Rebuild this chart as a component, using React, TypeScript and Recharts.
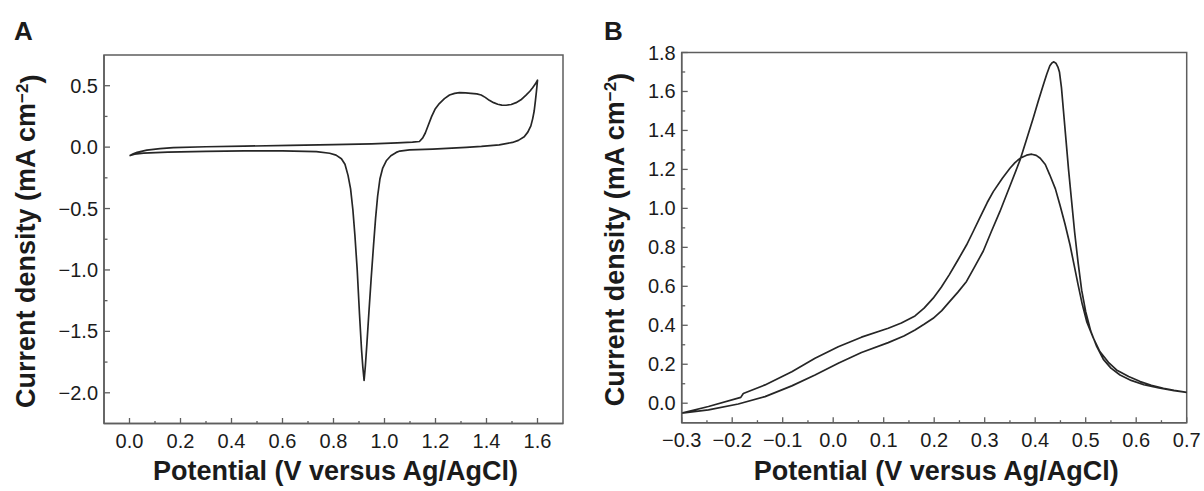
import React from 'react'
import { LineChart, Line, XAxis, YAxis, ReferenceArea } from 'recharts'

// Panel A: cyclic voltammogram, 0 -> 1.6 V and back
const potentialA_fwd = [
  0.0, 0.015, 0.03, 0.068, 0.12, 0.172, 0.3, 0.45, 0.63, 0.8, 0.95, 1.05, 1.11, 1.137,
  1.15, 1.16, 1.172, 1.185, 1.198, 1.215, 1.235, 1.255, 1.275, 1.294, 1.318, 1.339, 1.362,
  1.379, 1.395, 1.411, 1.428, 1.444, 1.46, 1.477, 1.497, 1.516, 1.535, 1.555, 1.57, 1.581,
  1.592, 1.6,
]
const currentA_fwd = [
  -0.07, -0.055, -0.043, -0.024, -0.012, -0.004, 0.003, 0.008, 0.014, 0.02, 0.027, 0.034,
  0.04, 0.046, 0.075, 0.115, 0.18, 0.25, 0.308, 0.355, 0.395, 0.424, 0.438, 0.443, 0.441,
  0.438, 0.433, 0.424, 0.405, 0.381, 0.362, 0.349, 0.342, 0.341, 0.347, 0.362, 0.385, 0.424,
  0.455, 0.484, 0.515, 0.545,
]
const potentialA_rev = [
  1.598, 1.596, 1.592, 1.587, 1.581, 1.574, 1.562, 1.548, 1.525, 1.502, 1.45, 1.38, 1.32,
  1.189, 1.098, 1.06, 1.046, 1.025, 1.007, 0.993, 0.982, 0.973, 0.965, 0.957, 0.948, 0.939,
  0.931, 0.925, 0.92, 0.915, 0.91, 0.902, 0.893, 0.884, 0.876, 0.867, 0.857, 0.845, 0.831,
  0.81, 0.785, 0.733, 0.6, 0.45, 0.3, 0.15, 0.055, 0.02, 0.0,
]
const currentA_rev = [
  0.5, 0.457, 0.38, 0.294, 0.23, 0.173, 0.122, 0.084, 0.055, 0.038, 0.019, 0.006, -0.002,
  -0.016, -0.022, -0.032, -0.043, -0.07, -0.111, -0.17, -0.26, -0.4, -0.58, -0.8, -1.06,
  -1.34, -1.6, -1.78, -1.9, -1.79, -1.65, -1.36, -1.0, -0.72, -0.51, -0.34, -0.23, -0.14,
  -0.095, -0.065, -0.05, -0.036, -0.031, -0.031, -0.034, -0.04, -0.049, -0.058, -0.07,
]

// Panel B: -0.3 -> 0.7 V (sharp peak) and back (broad peak)
const potentialB_fwd = [
  -0.3, -0.247, -0.188, -0.135, -0.082, -0.036, 0.01, 0.056, 0.109, 0.14, 0.162, 0.18,
  0.198, 0.215, 0.23, 0.247, 0.264, 0.28, 0.297, 0.313, 0.33, 0.35, 0.37, 0.383, 0.396,
  0.406, 0.416, 0.423, 0.429, 0.433, 0.437, 0.441, 0.445, 0.448, 0.452, 0.456, 0.461, 0.466,
  0.472, 0.478, 0.485, 0.492, 0.5, 0.51, 0.522, 0.535, 0.55, 0.568, 0.59, 0.615, 0.645,
  0.675, 0.7,
]
const currentB_fwd = [
  -0.051, -0.034, -0.004, 0.034, 0.089, 0.145, 0.205, 0.26, 0.311, 0.345, 0.376, 0.405,
  0.436, 0.475, 0.52, 0.57, 0.625, 0.7, 0.78, 0.88, 0.983, 1.115, 1.248, 1.355, 1.462,
  1.55, 1.633, 1.69, 1.732, 1.746, 1.752, 1.745, 1.725, 1.7, 1.62, 1.5, 1.35, 1.2, 1.04,
  0.88, 0.72, 0.58, 0.47, 0.37, 0.29, 0.225, 0.18, 0.145, 0.117, 0.095, 0.078, 0.064, 0.056,
]
const potentialB_rev = [
  0.675, 0.654, 0.63, 0.608, 0.585, 0.561, 0.545, 0.528, 0.515, 0.502, 0.493, 0.485, 0.477,
  0.469, 0.459, 0.449, 0.44, 0.429, 0.42, 0.41, 0.402, 0.393, 0.383, 0.37, 0.36, 0.35,
  0.335, 0.317, 0.305, 0.29, 0.277, 0.264, 0.247, 0.23, 0.214, 0.198, 0.18, 0.162, 0.135,
  0.109, 0.056, 0.01, -0.036, -0.082, -0.135, -0.178, -0.183, -0.247, -0.3,
]
const currentB_rev = [
  0.066, 0.077, 0.092, 0.111, 0.137, 0.171, 0.21, 0.265, 0.335, 0.419, 0.51, 0.607, 0.71,
  0.812, 0.92, 1.017, 1.1, 1.171, 1.225, 1.257, 1.272, 1.278, 1.273, 1.257, 1.235, 1.206,
  1.155, 1.086, 1.03, 0.95, 0.88, 0.812, 0.735, 0.66, 0.595, 0.539, 0.488, 0.448, 0.412,
  0.385, 0.339, 0.29, 0.231, 0.162, 0.094, 0.05, 0.03, -0.017, -0.051,
]

// ticks (labelled + minor)
const xMajorA = [0, 0.2, 0.4, 0.6, 0.8, 1.0, 1.2, 1.4, 1.6]
const xMinorA = [0.1, 0.3, 0.5, 0.7, 0.9, 1.1, 1.3, 1.5]
const yMajorA = [-2.0, -1.5, -1.0, -0.5, 0, 0.5]
const yMinorA = [-1.75, -1.25, -0.75, -0.25, 0.25]
const xMajorB = [-0.3, -0.2, -0.1, 0, 0.1, 0.2, 0.3, 0.4, 0.5, 0.6, 0.7]
const xMinorB = [-0.25, -0.15, -0.05, 0.05, 0.15, 0.25, 0.35, 0.45, 0.55, 0.65]
const yMajorB = [0, 0.2, 0.4, 0.6, 0.8, 1.0, 1.2, 1.4, 1.6, 1.8]
const yMinorB = [0.1, 0.3, 0.5, 0.7, 0.9, 1.1, 1.3, 1.5, 1.7]

const FONT = '"Liberation Sans", Arial, Helvetica, sans-serif'
const INK = '#1b1b1b'
const AXIS = '#5e5e5e'
const TRACE = '#262626'

const toPoints = (xs: number[], ys: number[]) => xs.map((x, i) => ({ x, y: ys[i] }))

const dataA = [...toPoints(potentialA_fwd, currentA_fwd), ...toPoints(potentialA_rev, currentA_rev)]
const dataB = [...toPoints(potentialB_fwd, currentB_fwd), ...toPoints(potentialB_rev, currentB_rev)]

const fmt = (v: number) => {
  const s = Math.abs(v).toFixed(1)
  return v < -1e-9 ? '\u2212' + s : s
}
const isMajor = (majors: number[], v: number) => majors.some((m) => Math.abs(m - v) < 1e-6)

const makeXTick = (majors: number[]) => (props: any) => {
  const { x, y, payload } = props
  const major = isMajor(majors, payload.value)
  return (
    <g>
      <line x1={x} y1={y} x2={x} y2={y - (major ? 5.5 : 2.5)} stroke={AXIS} strokeWidth={1.3} />
      {major && (
        <text x={x} y={y + 24.5} textAnchor="middle" fontSize={20} fontFamily={FONT} fill={INK}>
          {fmt(payload.value)}
        </text>
      )}
    </g>
  )
}

const makeYTick = (majors: number[]) => (props: any) => {
  const { x, y, payload } = props
  const major = isMajor(majors, payload.value)
  return (
    <g>
      <line x1={x} y1={y} x2={x + (major ? 6 : 3.5)} y2={y} stroke={AXIS} strokeWidth={1.3} />
      {major && (
        <text x={x - 6} y={y} dy="0.35em" textAnchor="end" fontSize={20} fontFamily={FONT} fill={INK}>
          {fmt(payload.value)}
        </text>
      )}
    </g>
  )
}

const titleStyle = { fontSize: 27, fontWeight: 700, fontFamily: FONT, fill: INK }

interface PanelProps {
  data: { x: number; y: number }[]
  width: number
  height: number
  margin: { top: number; right: number; bottom: number; left: number }
  yAxisWidth: number
  xAxisHeight: number
  xDomain: [number, number]
  yDomain: [number, number]
  xMajor: number[]
  xMinor: number[]
  yMajor: number[]
  yMinor: number[]
  yTitleX: number
}

function CvPanel(p: PanelProps) {
  return (
    <LineChart width={p.width} height={p.height} data={p.data} margin={p.margin}>
      <XAxis
        dataKey="x"
        type="number"
        domain={p.xDomain}
        allowDataOverflow
        ticks={[...p.xMajor, ...p.xMinor]}
        interval={0}
        height={p.xAxisHeight}
        tickSize={0}
        tickMargin={0}
        tick={makeXTick(p.xMajor)}
        axisLine={{ stroke: AXIS, strokeWidth: 1.5 }}
        label={{
          content: (lp: any) => {
            const vb = lp.viewBox
            return (
              <text x={vb.x + vb.width / 2 + 2} y={480} textAnchor="middle" style={titleStyle}>
                Potential (V versus Ag/AgCl)
              </text>
            )
          },
        }}
      />
      <YAxis
        type="number"
        domain={p.yDomain}
        allowDataOverflow
        ticks={[...p.yMajor, ...p.yMinor]}
        interval={0}
        width={p.yAxisWidth}
        tickSize={0}
        tickMargin={0}
        tick={makeYTick(p.yMajor)}
        axisLine={{ stroke: AXIS, strokeWidth: 1.5 }}
        label={{
          content: (lp: any) => {
            const vb = lp.viewBox
            const cy = vb.y + vb.height / 2 + 2
            return (
              <text
                x={p.yTitleX}
                y={cy}
                dy="0.35em"
                textAnchor="middle"
                transform={`rotate(-90 ${p.yTitleX} ${cy})`}
                style={titleStyle}
              >
                Current density (mA cm
                <tspan dy="-0.45em" fontSize={17}>
                  {'\u22122'}
                </tspan>
                <tspan dy="0.45em">)</tspan>
              </text>
            )
          },
        }}
      />
      <ReferenceArea
        x1={p.xDomain[0]}
        x2={p.xDomain[1]}
        y1={p.yDomain[0]}
        y2={p.yDomain[1]}
        fill="none"
        stroke={AXIS}
        strokeWidth={1.5}
        ifOverflow="visible"
      />
      <Line
        dataKey="y"
        type="linear"
        stroke={TRACE}
        strokeWidth={1.7}
        strokeLinejoin="round"
        dot={false}
        activeDot={false}
        isAnimationActive={false}
      />
    </LineChart>
  )
}

const letterStyle: React.CSSProperties = {
  position: 'absolute',
  fontFamily: FONT,
  fontWeight: 700,
  fontSize: 26,
  lineHeight: '26px',
  color: INK,
}

export default function App() {
  return (
    <div style={{ position: 'absolute', left: 0, top: 0, width: 1204, height: 491, background: '#fff' }}>
      <div style={{ ...letterStyle, left: 14, top: 17.5 }}>A</div>
      <div style={{ ...letterStyle, left: 604, top: 17.5 }}>B</div>
      <div style={{ position: 'absolute', left: 0, top: 0 }}>
        <CvPanel
          data={dataA}
          width={600}
          height={491}
          margin={{ top: 55, right: 37, bottom: 0, left: 0 }}
          yAxisWidth={104}
          xAxisHeight={67.5}
          xDomain={[-0.1, 1.7]}
          yDomain={[-2.25, 0.75]}
          xMajor={xMajorA}
          xMinor={xMinorA}
          yMajor={yMajorA}
          yMinor={yMinorA}
          yTitleX={26}
        />
      </div>
      <div style={{ position: 'absolute', left: 600, top: 0 }}>
        <CvPanel
          data={dataB}
          width={604}
          height={491}
          margin={{ top: 52.5, right: 17.3, bottom: 0, left: 0 }}
          yAxisWidth={81.7}
          xAxisHeight={68.3}
          xDomain={[-0.3, 0.7]}
          yDomain={[-0.1, 1.8]}
          xMajor={xMajorB}
          xMinor={xMinorB}
          yMajor={yMajorB}
          yMinor={yMinorB}
          yTitleX={14.5}
        />
      </div>
    </div>
  )
}
